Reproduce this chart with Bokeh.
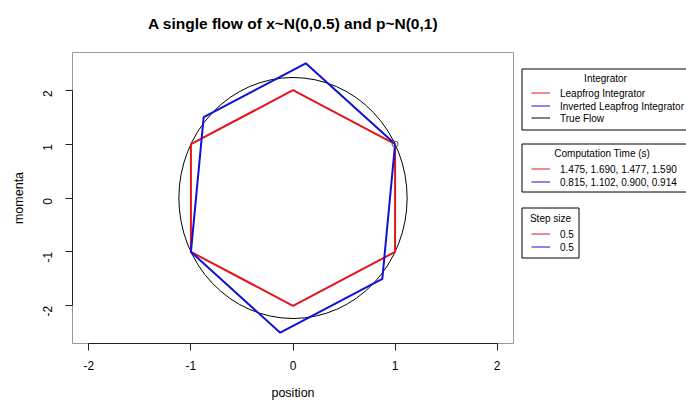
import math
from bokeh.plotting import figure
from bokeh.layouts import row
from bokeh.models import Range1d, FixedTicker, Label, Title, PrintfTickFormatter
from bokeh.embed import file_html
from bokeh.resources import INLINE

# ---- data ----
leapfrog_position = [1.0, 0.0, -1.0, -1.0, 0.0, 1.0, 1.0]
leapfrog_momenta = [1.0, 2.0, 1.0, -1.0, -2.0, -1.0, 1.0]
inverted_position = [1.0, 0.125, -0.875, -1.0, -0.125, 0.875, 1.0]
inverted_momenta = [1.0, 2.5, 1.5, -1.0, -2.5, -1.5, 1.0]
true_flow_center_x = [0.0]
true_flow_center_y = [0.0]
true_flow_semi_x = 1.118
true_flow_semi_y = 2.236
start_position = [1.0]
start_momenta = [1.0]
integrator_names = ["Leapfrog Integrator", "Inverted Leapfrog Integrator", "True Flow"]
leapfrog_times = [1.475, 1.690, 1.477, 1.590]
inverted_times = [0.815, 1.102, 0.900, 0.914]
step_sizes = [0.5, 0.5]
x_ticks = [-2, -1, 0, 1, 2]
y_ticks = [-2, -1, 0, 1, 2]
x_limits = (-2.0, 2.0)
y_limits = (-2.5, 2.5)
title_text = "A single flow of x~N(0,0.5) and p~N(0,1)"

RED = "#E2141C"
BLUE = "#1010D8"
FONT = "Liberation Sans"

W, H = 686, 403
MAIN_W = 517
BORDER_TOP, BORDER_BOTTOM = 52, 60
FRAME_TOP, FRAME_BOTTOM = BORDER_TOP, H - BORDER_BOTTOM


def padded(lim, frac=0.04):
    d = (lim[1] - lim[0]) * frac
    return Range1d(lim[0] - d, lim[1] + d)


p = figure(width=MAIN_W, height=H, output_backend="svg", toolbar_location=None,
           title=None,
           x_range=padded(x_limits), y_range=padded(y_limits),
           min_border_left=72, min_border_right=4,
           min_border_top=BORDER_TOP, min_border_bottom=BORDER_BOTTOM)

# an (invisible) spacer panel next to the frame, then the real title above it
p.add_layout(Title(text=" ", text_font_size="2px", standoff=15), "above")
p.add_layout(Title(text=title_text, align="center", vertical_align="top", standoff=0,
                   text_font=FONT, text_font_size="15.5px", text_font_style="bold",
                   text_color="black"), "above")

p.xgrid.visible = False
p.ygrid.visible = False
p.outline_line_color = "#999999"
p.outline_line_width = 1
p.outline_line_alpha = 1.0
p.background_fill_color = "white"
p.border_fill_color = "white"

for ax, ticks in ((p.xaxis[0], x_ticks), (p.yaxis[0], y_ticks)):
    ax.ticker = FixedTicker(ticks=ticks)
    ax.formatter = PrintfTickFormatter(format="%d")
    ax.bounds = (ticks[0], ticks[-1])
    ax.minor_tick_line_color = None
    ax.major_tick_out = 7
    ax.major_tick_in = 0
    ax.axis_line_color = "#222222"
    ax.major_tick_line_color = "#222222"
    ax.major_label_text_font = FONT
    ax.major_label_text_font_size = "12px"
    ax.major_label_text_color = "black"
    ax.axis_label_text_font = FONT
    ax.axis_label_text_font_size = "12.5px"
    ax.axis_label_text_font_style = "normal"
    ax.axis_label_text_color = "black"

p.xaxis.axis_label = "position"
p.yaxis.axis_label = "momenta"
p.xaxis.major_label_standoff = 10
p.xaxis.axis_label_standoff = 13
p.yaxis.major_label_standoff = 18
p.yaxis.axis_label_standoff = 10
p.yaxis.major_label_orientation = math.pi / 2

# ---- plotted data ----
p.ellipse(x=true_flow_center_x, y=true_flow_center_y,
          width=2 * true_flow_semi_x, height=2 * true_flow_semi_y,
          fill_color=None, line_color="black", line_width=1)
p.line(leapfrog_position, leapfrog_momenta, line_color=RED, line_width=2)
p.line(inverted_position, inverted_momenta, line_color=BLUE, line_width=2)
p.scatter(start_position, start_momenta, marker="circle", size=6,
          fill_color=None, line_color="#555555", line_width=1)

# ---- legend panel: a plain figure whose frame lines up with the main frame,
#      with ranges in page-pixel units, holding three R-style legend boxes ----
q = figure(width=W - MAIN_W, height=H, output_backend="svg", toolbar_location=None,
           title=None,
           x_range=Range1d(MAIN_W, W), y_range=Range1d(FRAME_BOTTOM, FRAME_TOP),
           x_axis_type=None, y_axis_type=None,
           min_border_left=0, min_border_right=0,
           min_border_top=BORDER_TOP, min_border_bottom=BORDER_BOTTOM)
q.xgrid.visible = False
q.ygrid.visible = False
q.outline_line_color = None
q.background_fill_color = "white"
q.border_fill_color = "white"


def fmt_times(ts):
    return ", ".join(f"{t:.3f}" for t in ts)


# legend layout (page pixels)
LEG_LEFT = 521.5
KEY_X0, KEY_X1 = 531.0, 549.5
TEXT_X = 559.5
legend_specs = [
    dict(title="Integrator", title_x=605.0, title_y=77.7,
         top=68.5, bottom=129.5, right=692.0,
         labels=integrator_names, colors=[RED, BLUE, "black"],
         rows=[92.5, 105.5, 117.5]),
    dict(title="Computation Time (s)", title_x=601.7, title_y=153.3,
         top=143.5, bottom=191.5, right=692.0,
         labels=[fmt_times(leapfrog_times), fmt_times(inverted_times)], colors=[RED, BLUE],
         rows=[168.5, 181.5]),
    dict(title="Step size", title_x=550.0, title_y=217.7,
         top=207.5, bottom=257.5, right=578.5,
         labels=[f"{s}" for s in step_sizes], colors=[RED, BLUE],
         rows=[233.5, 246.5]),
]

for spec in legend_specs:
    q.quad(left=[LEG_LEFT], right=[spec["right"]], top=[spec["top"]], bottom=[spec["bottom"]],
           fill_color=None, line_color="black", line_width=1)
    n = len(spec["rows"])
    q.segment(x0=[KEY_X0] * n, y0=spec["rows"], x1=[KEY_X1] * n, y1=spec["rows"],
              line_color=spec["colors"], line_width=1)
    q.add_layout(Label(x=spec["title_x"], y=spec["title_y"], text=spec["title"],
                       text_align="center", text_baseline="middle",
                       text_font=FONT, text_font_size="10px", text_color="black"))
    for lab, yy in zip(spec["labels"], spec["rows"]):
        q.add_layout(Label(x=TEXT_X, y=yy, text=lab, text_align="left", text_baseline="middle",
                           text_font=FONT, text_font_size="10px", text_color="black"))

layout = row(p, q, spacing=0)
open("out.html", "w").write(file_html(layout, INLINE))
